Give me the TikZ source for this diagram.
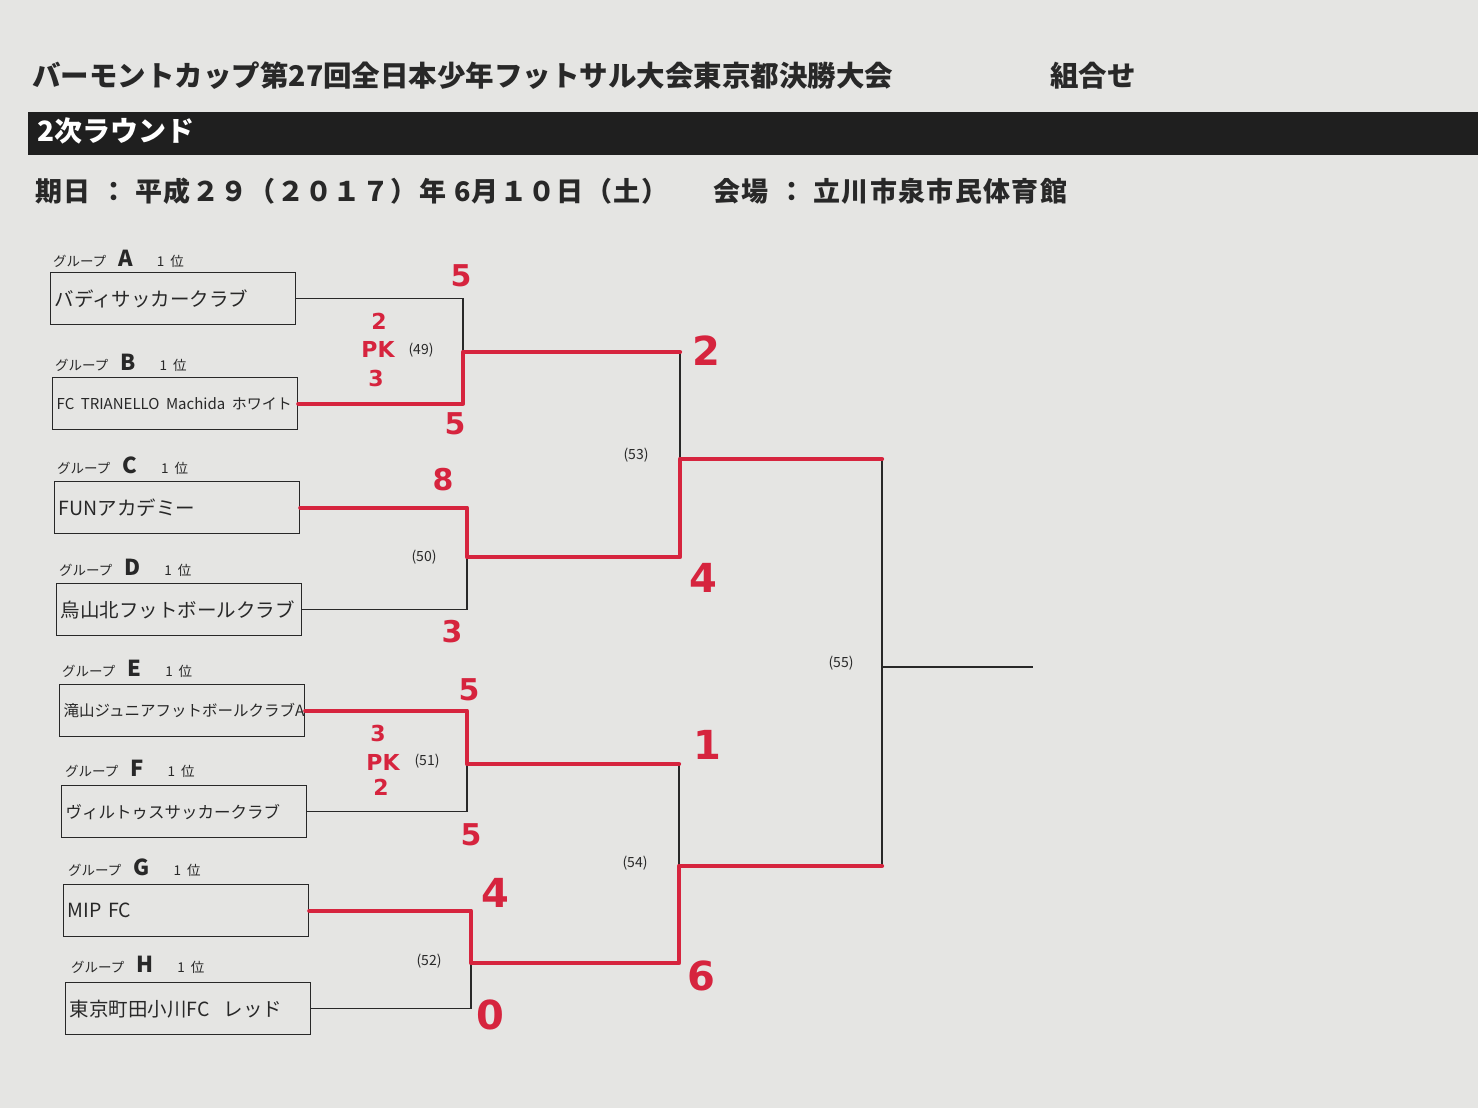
\documentclass[tikz,border=0pt]{standalone}
\usepackage{fontspec}
\newfontfamily\jp{Noto Sans CJK JP}
\newfontfamily\hand{DejaVu Sans}
\definecolor{paper}{RGB}{229,229,227}
\definecolor{hred}{RGB}{214,36,62}
\definecolor{ink}{RGB}{40,40,40}
\newcommand{\grplabel}[1]{グループ\hspace{12pt}{\bfseries\fontsize{22}{22}\selectfont #1}\hspace{24pt}1\hspace{6pt}位}
\begin{document}
\begin{tikzpicture}[x=1pt,y=-1pt,
  team/.style={draw=ink, line width=1.3pt, anchor=north west, inner sep=4pt,
    text width=237pt, minimum height=52pt, align=left,
    font=\jp\fontsize{19.5}{19.5}\selectfont, text=ink},
  grp/.style={anchor=west, inner sep=0pt, font=\jp\fontsize{13.5}{13.5}\selectfont, text=ink},
  bl/.style={draw=ink, line width=1.1pt},
  win/.style={draw=hred, line width=4.2pt, line cap=round, line join=round},
  sc/.style={text=hred, inner sep=0pt, font=\hand\bfseries\fontsize{30}{30}\selectfont},
  scl/.style={text=hred, inner sep=0pt, font=\hand\bfseries\fontsize{40}{40}\selectfont},
  scs/.style={text=hred, inner sep=0pt, font=\hand\bfseries\fontsize{22}{22}\selectfont},
  mno/.style={inner sep=0pt, font=\jp\fontsize{14}{14}\selectfont, text=ink},
  head/.style={anchor=west, inner sep=0pt, font=\jp\bfseries\fontsize{28.5}{28.5}\selectfont, text=ink},
  dateline/.style={anchor=west, inner sep=0pt, font=\jp\bfseries\fontsize{27}{27}\selectfont\addfontfeature{LetterSpace=5}, text=ink}]
\fill[paper] (0,0) rectangle (1478,1108);
\useasboundingbox (0,0) rectangle (1478,1108);

% header
\node[head] (title) at (32,76) {バーモントカップ第27回全日本少年フットサル大会東京都決勝大会};
\node[head] (kumi) at (1050,76) {組合せ};
\fill[black!88] (28,112) rectangle (1478,155);
\node[anchor=west, inner sep=0pt, text=white, font=\jp\bfseries\fontsize{28}{28}\selectfont] (round) at (37,131) {2次ラウンド};
\node[dateline] (date) at (35,191) {期日\hspace{10pt}：\hspace{8pt}平成２９（２０１７）年\hspace{8pt}6月１０日（土）};
\node[dateline] (venue) at (713,191) {会場\hspace{10pt}：\hspace{8pt}立川市泉市民体育館};

% group labels
\node[grp] (gA) at (53,259) {\grplabel{A}};
\node[grp] (gB) at (55,363) {\grplabel{B}};
\node[grp] (gC) at (57,466) {\grplabel{C}};
\node[grp] (gD) at (59,568) {\grplabel{D}};
\node[grp] (gE) at (62,669) {\grplabel{E}};
\node[grp] (gF) at (65,769) {\grplabel{F}};
\node[grp] (gG) at (68,868) {\grplabel{G}};
\node[grp] (gH) at (71,965) {\grplabel{H}};

% team boxes
\node[team] (tA) at (50,272) {バディサッカークラブ};
\node[team] (tB) at (52,377) {\fontsize{15}{15}\selectfont\mbox{FC TRIANELLO Machida ホワイト}};
\node[team] (tC) at (54,481) {FUNアカデミー};
\node[team] (tD) at (56,583) {烏山北フットボールクラブ};
\node[team] (tE) at (59,684) {\fontsize{15.5}{15.5}\selectfont 滝山ジュニアフットボールクラブA};
\node[team] (tF) at (61,785) {\fontsize{16.5}{16.5}\selectfont ヴィルトゥスサッカークラブ};
\node[team] (tG) at (63,884) {MIP FC};
\node[team] (tH) at (65,982) {東京町田小川FC\hspace{14pt}レッド};

% bracket junctions
\coordinate (m49) at (463,352);
\coordinate (m50) at (467,557);
\coordinate (m51) at (467,764);
\coordinate (m52) at (471,963);
\coordinate (m53) at (680,459);
\coordinate (m54) at (679,866);
\coordinate (m55) at (882,667);
\coordinate (fin) at (1033,667);

% black bracket
\draw[bl] (tA.east) -| (m49);
\draw[bl] (tB.east) -| (m49);
\draw[bl] (tC.east) -| (m50);
\draw[bl] (tD.east) -| (m50);
\draw[bl] (tE.east) -| (m51);
\draw[bl] (tF.east) -| (m51);
\draw[bl] (tG.east) -| (m52);
\draw[bl] (tH.east) -| (m52);
\draw[bl] (m49) -| (m53);
\draw[bl] (m50) -| (m53);
\draw[bl] (m51) -| (m54);
\draw[bl] (m52) -| (m54);
\draw[bl] (m53) -| (m55);
\draw[bl] (m54) -| (m55);
\draw[bl] (m55) -- (fin);

% red winner paths
\draw[win] (tB.east) -| (m49) -- (m49 -| m53);
\draw[win] (tC.east) -| (m50) -| (m53) -- (m53 -| m55);
\draw[win] (tE.east) -| (m51) -- (m51 -| m54);
\draw[win] (tG.east) -| (m52) -| (m54) -- (m54 -| m55);

% match numbers
\node[mno] (n49) at (421,350) {(49)};
\node[mno] (n50) at (424,557) {(50)};
\node[mno] (n51) at (427,761) {(51)};
\node[mno] (n52) at (429,961) {(52)};
\node[mno] (n53) at (636,455) {(53)};
\node[mno] (n54) at (635,863) {(54)};
\node[mno] (n55) at (841,663) {(55)};

% handwritten scores
\node[sc] (s1) at (461,276) {5};
\node[scs] (s2) at (379,321) {2};
\node[scs] (s3) at (378,349) {PK};
\node[scs] (s4) at (376,378) {3};
\node[sc] (s5) at (455,424) {5};
\node[sc] (s6) at (443,480) {8};
\node[sc] (s7) at (452,632) {3};
\node[scl] (s8) at (706,351) {2};
\node[scl] (s9) at (703,578) {4};
\node[sc] (s10) at (469,690) {5};
\node[scs] (s11) at (378,733) {3};
\node[scs] (s12) at (383,762) {PK};
\node[scs] (s13) at (381,787) {2};
\node[sc] (s14) at (471,835) {5};
\node[scl] (s15) at (495,893) {4};
\node[scl] (s16) at (490,1015) {0};
\node[scl] (s17) at (707,745) {1};
\node[scl] (s18) at (701,976) {6};
\end{tikzpicture}
\end{document}
